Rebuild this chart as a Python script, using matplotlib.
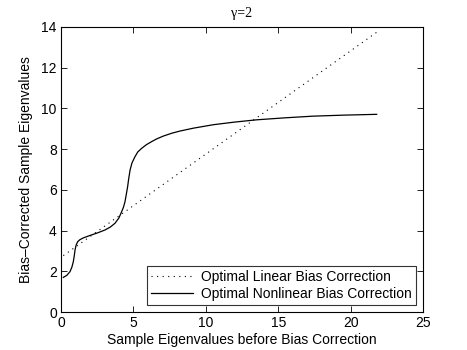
import matplotlib
matplotlib.use("Agg")
import matplotlib.pyplot as plt

# Data
lin_x = [0.16, 21.8]
lin_y = [2.77, 13.74]

nl_x = [0.16, 0.40, 0.62, 0.75, 0.85, 0.92, 0.97, 1.05, 1.15, 1.30, 1.54, 2.0, 2.5, 3.04, 3.4, 3.73, 4.0,
        4.19, 4.32, 4.42, 4.51, 4.60, 4.68, 4.77, 4.9, 5.11, 5.3, 5.57, 5.9, 6.26, 6.6, 7.06, 7.64,
        8.22, 9.14, 10.52, 12.0, 13.5, 15.5, 17.4, 19.5, 21.8]
nl_y = [1.70, 1.80, 1.98, 2.20, 2.47, 2.78, 3.05, 3.30, 3.45, 3.55, 3.64, 3.76, 3.88, 4.03, 4.17, 4.36, 4.62,
        4.93, 5.16, 5.42, 5.78, 6.15, 6.57, 6.97, 7.32, 7.63, 7.86, 8.04, 8.22, 8.37, 8.50, 8.64, 8.78,
        8.89, 9.03, 9.20, 9.33, 9.44, 9.54, 9.62, 9.67, 9.71]

x_ticks = [0, 5, 10, 15, 20, 25]
y_ticks = [0, 2, 4, 6, 8, 10, 12, 14]

plt.rcParams['font.family'] = ['Liberation Sans', 'DejaVu Sans']

fig = plt.figure(figsize=(4.67, 3.5), dpi=100)
ax = fig.add_axes([61/467, 38/350, (423-61)/467, (312-27)/350])

ax.plot(lin_x, lin_y, color='black', linestyle=(0, (1, 4)), linewidth=0.8,
        label='Optimal Linear Bias Correction')
ax.plot(nl_x, nl_y, color='black', linestyle='-', linewidth=0.9,
        label='Optimal Nonlinear Bias Correction')

ax.set_xlim(0, 25)
ax.set_ylim(0, 14)
ax.set_xticks(x_ticks)
ax.set_yticks(y_ticks)
ax.tick_params(direction='in', top=True, right=True, labelsize=10, length=4, width=0.6, pad=3)
for s in ax.spines.values():
    s.set_linewidth(0.8)

ax.set_xlabel('Sample Eigenvalues before Bias Correction', fontsize=10, labelpad=2)
ax.set_ylabel('Bias–Corrected Sample Eigenvalues', fontsize=10, labelpad=6)
ax.set_title('γ=2', fontsize=10, family=['Liberation Serif', 'DejaVu Serif'], pad=7)

leg = ax.legend(loc='lower right', fontsize=10, frameon=True, fancybox=False,
                edgecolor='black', handlelength=3.0, borderpad=0.3, labelspacing=0.2,
                handletextpad=0.6, borderaxespad=0.5)
leg.get_frame().set_linewidth(0.8)

fig.savefig('out.png', dpi=100)
